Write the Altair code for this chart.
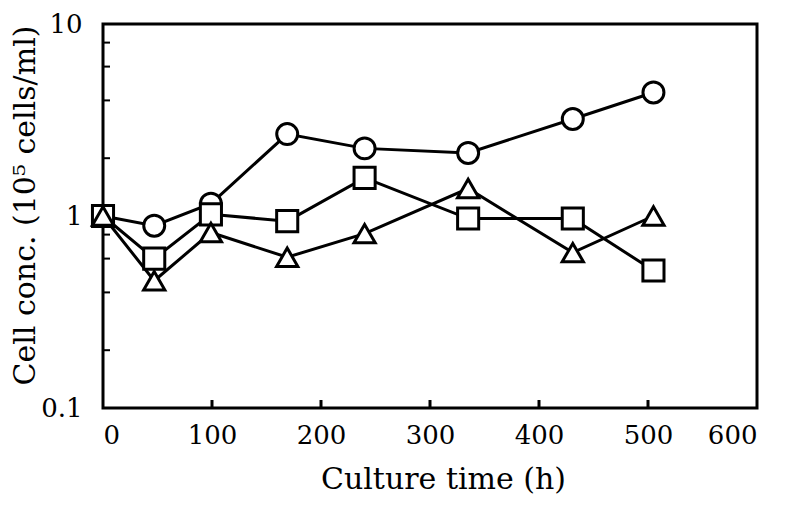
import altair as alt
import pandas as pd

# culture time (h)
times = [0, 47, 99, 169, 240, 335, 431, 505]
# cell concentration (10^5 cells/ml)
circle_vals = [1.0, 0.89, 1.16, 2.67, 2.25, 2.13, 3.2, 4.4]
square_vals = [1.0, 0.60, 1.02, 0.94, 1.58, 0.97, 0.97, 0.52]
triangle_vals = [1.0, 0.46, 0.82, 0.61, 0.81, 1.39, 0.645, 1.0]

series_names = ["circle", "square", "triangle"]
series_shapes = ["circle", "square", "triangle-up"]
series_sizes = [440, 450, 520]

x_ticks = [100, 200, 300, 400, 500]
y_minor_ticks = [0.2, 0.4, 0.6, 0.8, 1, 2, 4, 6, 8]

rows = []
for order, (name, vals) in enumerate(zip(series_names, [circle_vals, square_vals, triangle_vals])):
    for t, v in zip(times, vals):
        rows.append({"t": t, "c": v, "series": name, "ord": order})
df = pd.DataFrame(rows)

FONT = "DejaVu Serif"
W, H = 654, 384

xscale = alt.Scale(domain=[0, 600], nice=False, zero=False)
yscale = alt.Scale(type="log", domain=[0.1, 10], nice=False)

base = alt.Chart(df)

lines = base.mark_line(color="black", strokeWidth=3).encode(
    x=alt.X("t:Q", scale=xscale,
            axis=alt.Axis(values=[0, 100, 200, 300, 400, 500, 600], title="Culture time (h)",
                          domain=False, ticks=False, tickSize=0, grid=False,
                          labelBaseline="alphabetic", labelPadding=35,
                          titleX=340, titleY=80, titleBaseline="alphabetic",
                          titleAlign="center", format="d")),
    y=alt.Y("c:Q", scale=yscale,
            axis=alt.Axis(values=[0.1, 1, 10], title="Cell conc. (10⁵ cells/ml)",
                          domain=False, ticks=False, tickSize=0, grid=False,
                          labelPadding=21, labelBaseline="middle",
                          titleX=-63, titleY=181, titleAngle=270, titleAlign="center",
                          titleBaseline="bottom", format="~g")),
    detail="series:N",
)

points = base.mark_point(filled=True, fill="white", stroke="black", strokeWidth=3,
                         opacity=1).encode(
    x="t:Q",
    y="c:Q",
    shape=alt.Shape("series:N", scale=alt.Scale(domain=series_names, range=series_shapes),
                    legend=None),
    size=alt.Size("series:N", scale=alt.Scale(domain=series_names, range=series_sizes),
                  legend=None),
    order=alt.Order("ord:Q"),
)

xtick_df = pd.DataFrame({"t": x_ticks})
xticks = alt.Chart(xtick_df).mark_rule(color="black", strokeWidth=3).encode(
    x="t:Q", y=alt.value(H), y2=alt.value(H - 8)
)

ytick_df = pd.DataFrame({"c": y_minor_ticks})
yticks = alt.Chart(ytick_df).mark_rule(color="black", strokeWidth=2).encode(
    y="c:Q", x=alt.value(0), x2=alt.value(7)
)

chart = alt.layer(xticks, yticks, lines, points).properties(
    width=W, height=H,
    autosize=alt.AutoSizeParams(type="none"),
    padding={"left": 95, "top": 16, "right": 22, "bottom": 90},
).configure_view(
    stroke="black", strokeWidth=3
).configure_axis(
    labelFont=FONT, titleFont=FONT, labelFontSize=26, titleFontSize=30,
    labelColor="black", titleColor="black", titleFontWeight="normal",
)

chart.save("out.html", embed_options={"renderer": "svg", "actions": False})
